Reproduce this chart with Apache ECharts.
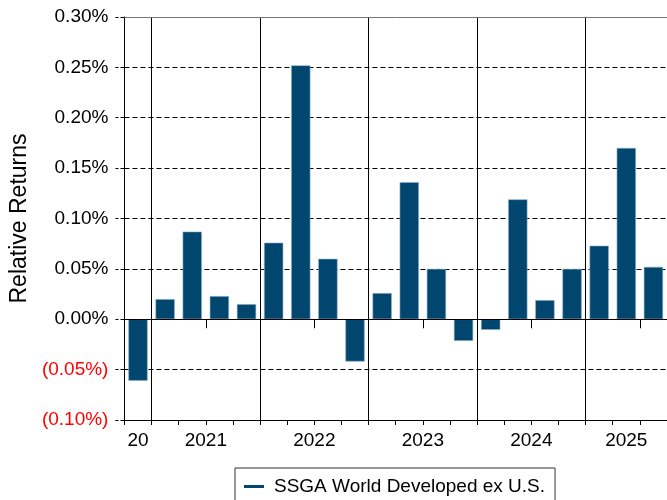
<!DOCTYPE html>
<html>
<head>
<meta charset="utf-8">
<script src="https://cdn.jsdelivr.net/npm/echarts@6/dist/echarts.min.js"></script>
<style>
  html, body { margin: 0; padding: 0; background: #fff; }
  #chart { width: 667px; height: 500px; }
</style>
</head>
<body>
<div id="chart"></div>
<script>
// Quarterly categories
const quarters = [
  'Q4 2020',
  'Q1 2021','Q2 2021','Q3 2021','Q4 2021',
  'Q1 2022','Q2 2022','Q3 2022','Q4 2022',
  'Q1 2023','Q2 2023','Q3 2023','Q4 2023',
  'Q1 2024','Q2 2024','Q3 2024','Q4 2024',
  'Q1 2025','Q2 2025','Q3 2025'
];
// Relative returns in percent
const relReturns = [
  -0.061,
  0.020, 0.087, 0.023, 0.015,
  0.076, 0.252, 0.060, -0.042,
  0.026, 0.136, 0.050, -0.0215,
  -0.0105, 0.119, 0.019, 0.050,
  0.073, 0.170, 0.052
];
// Year labels and their positions (in quarter units from the start)
const yearLabels = ['20', '2021', '2022', '2023', '2024', '2025'];
const yearLabelPos = [0.5, 3, 7, 11, 15, 18.5];
// Indexes of quarters that start a new year (vertical separators)
const yearStartIdx = [1, 5, 9, 13, 17];
const longTickPos = [0, 1, 3, 5, 7, 9, 11, 13, 15, 17, 19];

const seriesName = 'SSGA World Developed ex U.S.';
const yAxisName = 'Relative Returns';
const yMin = -0.10, yMax = 0.30, yStep = 0.05;

const FONT = 'Liberation Sans, Arial, sans-serif';

const chart = echarts.init(document.getElementById('chart'), null, { renderer: 'canvas' });

const labelMap = {};
yearLabelPos.forEach((p, i) => { labelMap[p] = yearLabels[i]; });

const option = {
  animation: false,
  textStyle: { fontFamily: FONT },
  grid: { left: 123.5, right: -3.5, top: 17, bottom: 80, containLabel: false },
  legend: {
    show: true,
    left: 235,
    top: 468,
    orient: 'horizontal',
    padding: [9, 10, 20, 9],
    borderColor: '#333',
    borderWidth: 1,
    itemWidth: 20,
    itemHeight: 3,
    icon: 'rect',
    itemStyle: { color: '#00466F', borderWidth: 0 },
    textStyle: { fontFamily: FONT, fontSize: 19, color: '#000', padding: [0, 0, 0, 5] },
    data: [seriesName]
  },
  xAxis: [
    {
      type: 'category',
      data: quarters,
      position: 'bottom',
      boundaryGap: true,
      axisLine: { show: true, onZero: false, lineStyle: { color: '#000', width: 1 } },
      axisTick: { show: true, interval: 0, length: 5, lineStyle: { color: '#000' } },
      axisLabel: { show: false },
      splitLine: {
        show: true,
        interval: function (index) { return yearStartIdx.indexOf(index) >= 0; },
        lineStyle: { color: '#000', width: 1, type: 'solid' }
      }
    },
    {
      type: 'value',
      min: 0,
      max: quarters.length,
      position: 'bottom',
      axisLine: { show: false },
      axisTick: { show: true, customValues: longTickPos, length: 9, lineStyle: { color: '#000' } },
      axisLabel: {
        show: true,
        customValues: yearLabelPos,
        formatter: function (v) { return labelMap[v] !== undefined ? labelMap[v] : ''; },
        color: '#000',
        fontSize: 19,
        fontFamily: FONT,
        margin: 11
      },
      splitLine: { show: false }
    },
    {
      type: 'value',
      min: 0,
      max: quarters.length,
      position: 'top',
      axisLine: { show: true, onZero: false, lineStyle: { color: '#777', width: 1 } },
      axisTick: { show: false },
      axisLabel: { show: false },
      splitLine: { show: false }
    }
  ],
  yAxis: {
    type: 'value',
    min: yMin,
    max: yMax,
    interval: yStep,
    name: yAxisName,
    nameLocation: 'middle',
    nameGap: 90,
    nameTextStyle: { fontSize: 23, color: '#000', fontFamily: FONT },
    axisLine: { show: true, lineStyle: { color: '#000', width: 1 } },
    axisTick: { show: true, length: 9, lineStyle: { color: '#000', type: [4, 2] } },
    axisLabel: {
      fontSize: 19,
      fontFamily: FONT,
      margin: 16,
      formatter: function (v) {
        const r = Math.round(v * 100) / 100;
        if (r < 0) return '(' + Math.abs(r).toFixed(2) + '%)';
        return r.toFixed(2) + '%';
      },
      color: function (v) { return (v < -1e-9) ? '#ff0000' : '#000'; }
    },
    splitLine: { show: true, lineStyle: { color: '#000', width: 1, type: [5, 3] } }
  },
  series: [
    {
      name: seriesName,
      type: 'bar',
      xAxisIndex: 0,
      yAxisIndex: 0,
      data: relReturns,
      barCategoryGap: '29%',
      itemStyle: { color: '#00466F', borderColor: '#8fb0c6', borderWidth: 0.6 },
      markLine: {
        silent: true,
        symbol: 'none',
        label: { show: false },
        lineStyle: { color: '#000', width: 1.2, type: 'solid' },
        data: [{ yAxis: 0 }]
      }
    }
  ]
};

chart.setOption(option);
</script>
</body>
</html>
